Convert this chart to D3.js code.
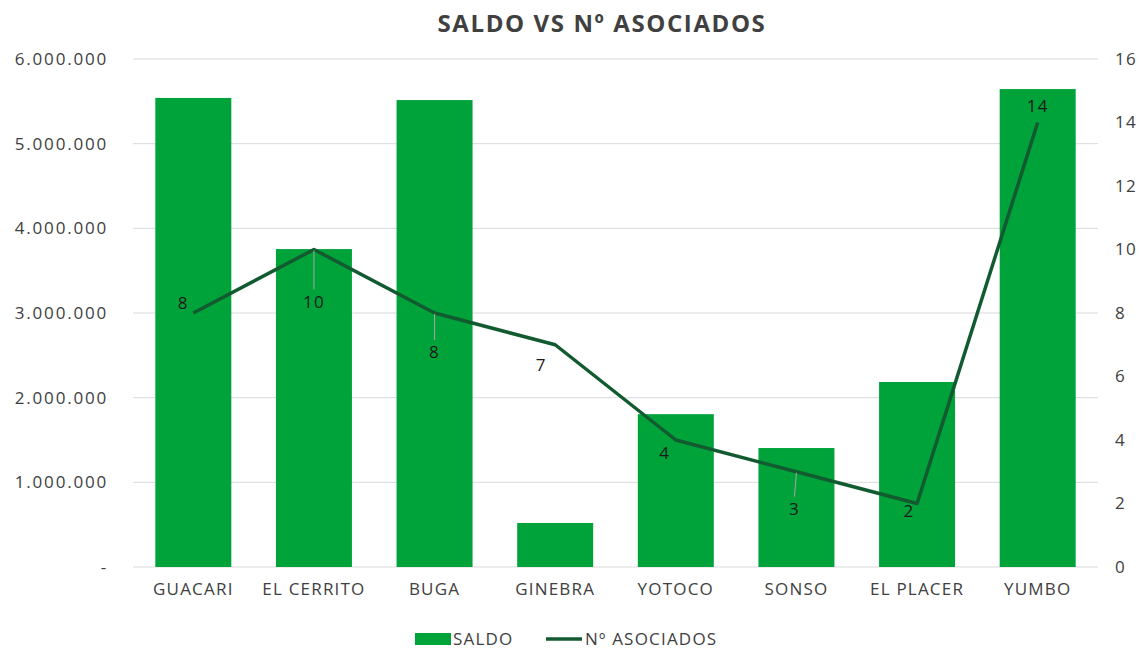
<!DOCTYPE html>
<html>
<head>
<meta charset="utf-8">
<script src="https://cdn.jsdelivr.net/npm/d3@7"></script>
<style>
  body { margin: 0; background: #fff; }
  svg text { font-family: "Open Sans", "Noto Sans", sans-serif; fill: #404040; letter-spacing: 1.2px; }
</style>
</head>
<body>
<svg id="chart" width="1140" height="649"></svg>
<script>
// data
var categories = ['GUACARI', 'EL CERRITO', 'BUGA', 'GINEBRA', 'YOTOCO', 'SONSO', 'EL PLACER', 'YUMBO'];
var saldo = [5540000, 3755000, 5515000, 520000, 1805000, 1405000, 2185000, 5645000];
var asociados = [8, 10, 8, 7, 4, 3, 2, 14];
var leftTicks = [0, 1000000, 2000000, 3000000, 4000000, 5000000, 6000000];
var rightTicks = [0, 2, 4, 6, 8, 10, 12, 14, 16];

// label placement (dx, dy from the point) and whether a leader line is drawn
var labelOffsets = [[-10, -4], [0, 58], [0, 45], [-14, 26], [-11, 19], [-2, 43], [-8, 13], [0, -11]];
var leaders = [false, true, true, false, false, true, false, false];

var svg = d3.select('#chart');
var plotL = 133, plotR = 1098, plotT = 59, plotB = 567;
var green = '#00a33a', dark = '#125a30';

var x = d3.scaleBand().domain(categories).range([plotL, plotR]).paddingInner(0.37).paddingOuter(0.185);
var y = d3.scaleLinear().domain([0, 6000000]).range([plotB, plotT]);
var y2 = d3.scaleLinear().domain([0, 16]).range([plotB, plotT]);

// gridlines
svg.append('g').selectAll('line').data(leftTicks).enter().append('line')
    .attr('x1', plotL).attr('x2', plotR)
    .attr('y1', function(d) { return y(d) }).attr('y2', function(d) { return y(d) })
    .attr('stroke', '#d9d9d9').attr('stroke-width', 1);

// left axis
var fmt = function(d) { return d === 0 ? '-' : d3.format(',')(d).replace(/,/g, '.') };
var ya = svg.append('g').attr('transform', 'translate(' + plotL + ',0)')
    .call(d3.axisLeft(y).tickValues(leftTicks).tickFormat(fmt).tickSize(0).tickPadding(25));
ya.select('.domain').remove();
ya.selectAll('text').style('font-size', '17px').style('letter-spacing', '1.8px');

// right axis
var yb = svg.append('g').attr('transform', 'translate(' + plotR + ',0)')
    .call(d3.axisRight(y2).tickValues(rightTicks).tickSize(0).tickPadding(17));
yb.select('.domain').remove();
yb.selectAll('text').style('font-size', '17px');

// x axis
var xa = svg.append('g').attr('transform', 'translate(0,' + plotB + ')')
    .call(d3.axisBottom(x).tickSize(0).tickPadding(16));
xa.select('.domain').remove();
xa.selectAll('text').style('font-size', '17px');

// bars
svg.append('g').selectAll('rect').data(saldo).enter().append('rect')
    .attr('x', function(d, i) { return x(categories[i]) })
    .attr('width', x.bandwidth())
    .attr('y', function(d) { return y(d) })
    .attr('height', function(d) { return plotB - y(d) })
    .attr('fill', green);

// line
var cx = function(i) { return x(categories[i]) + x.bandwidth() / 2 };
var line = d3.line().x(function(d, i) { return cx(i) }).y(function(d) { return y2(d) });
svg.append('path').datum(asociados)
    .attr('d', line).attr('fill', 'none')
    .attr('stroke', dark).attr('stroke-width', 3.5).attr('stroke-linejoin', 'round');

// leader lines
asociados.forEach(function(d, i) {
    if (!leaders[i]) return;
    var o = labelOffsets[i];
    svg.append('line')
        .attr('x1', cx(i)).attr('y1', y2(d) + 1)
        .attr('x2', cx(i) + o[0]).attr('y2', y2(d) + o[1] - 18)
        .attr('stroke', '#a6a6a6').attr('stroke-width', 1);
});

// data labels
svg.append('g').selectAll('text').data(asociados).enter().append('text')
    .attr('x', function(d, i) { return cx(i) + labelOffsets[i][0] })
    .attr('y', function(d, i) { return y2(d) + labelOffsets[i][1] })
    .attr('text-anchor', 'middle')
    .style('font-size', '17px').style('fill', '#1a1a1a')
    .text(function(d) { return d });

// title
svg.append('text').attr('x', 602).attr('y', 32).attr('text-anchor', 'middle')
    .style('font-size', '24px').style('font-weight', 'bold').style('letter-spacing', '1.6px')
    .text('SALDO VS Nº ASOCIADOS');

// legend
var lg = svg.append('g');
lg.append('rect').attr('x', 415).attr('y', 633).attr('width', 36).attr('height', 12).attr('fill', green);
lg.append('text').attr('x', 453).attr('y', 645).style('font-size', '17px').text('SALDO');
lg.append('line').attr('x1', 546).attr('x2', 582).attr('y1', 639).attr('y2', 639)
    .attr('stroke', dark).attr('stroke-width', 3.5);
lg.append('text').attr('x', 585).attr('y', 645).style('font-size', '17px').text('Nº ASOCIADOS');
</script>
</body>
</html>
